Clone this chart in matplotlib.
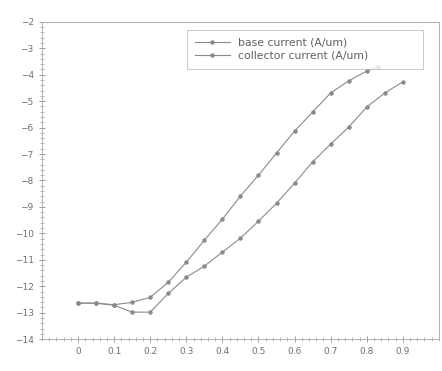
import matplotlib
matplotlib.use("Agg")
import matplotlib.pyplot as plt
from matplotlib.ticker import MultipleLocator

x_upper = [0, 0.05, 0.1, 0.15, 0.2, 0.25, 0.3, 0.35, 0.4, 0.45, 0.5, 0.55, 0.6, 0.65, 0.7, 0.75, 0.8, 0.83]
y_upper = [-12.64, -12.64, -12.70, -12.61, -12.42, -11.85, -11.09, -10.26, -9.46, -8.59, -7.80, -6.96,
           -6.13, -5.41, -4.69, -4.23, -3.86, -3.70]
x_lower = [0, 0.05, 0.1, 0.15, 0.2, 0.25, 0.3, 0.35, 0.4, 0.45, 0.5, 0.55, 0.6, 0.65, 0.7, 0.75, 0.8, 0.85, 0.9]
y_lower = [-12.64, -12.64, -12.72, -12.98, -12.98, -12.27, -11.66, -11.24, -10.71, -10.18, -9.54, -8.86,
           -8.10, -7.30, -6.62, -5.98, -5.22, -4.69, -4.27]
labels = ["base current (A/um)", "collector current (A/um)"]
xticks = [0, 0.1, 0.2, 0.3, 0.4, 0.5, 0.6, 0.7, 0.8, 0.9]
yticks = [-14, -13, -12, -11, -10, -9, -8, -7, -6, -5, -4, -3, -2]

fig = plt.figure(figsize=(4.42, 3.71), dpi=100)
ax = fig.add_axes([0.095, 0.086, 0.898, 0.855])
grey = "#8a8a8a"
ax.plot(x_upper, y_upper, color=grey, lw=0.8, marker="o", ms=2.2, mfc=grey, mec=grey, label=labels[0])
ax.plot(x_lower, y_lower, color=grey, lw=0.8, marker="o", ms=2.2, mfc=grey, mec=grey, label=labels[1])
ax.set_xlim(-0.1, 1.0)
ax.set_ylim(-14, -2)
ax.set_xticks(xticks)
ax.set_xticklabels([f"{t:g}" for t in xticks])
ax.set_yticks(yticks)
ax.xaxis.set_minor_locator(MultipleLocator(0.02))
ax.yaxis.set_minor_locator(MultipleLocator(0.2))
ax.tick_params(which="both", colors="#9a9a9a", labelcolor="#707070", labelsize=6.5, direction="inout")
ax.tick_params(which="major", length=5, width=0.7)
ax.tick_params(which="minor", length=2.5, width=0.5)
for sp in ax.spines.values():
    sp.set_color("#b0b0b0")
    sp.set_linewidth(0.7)
leg = ax.legend(loc="upper left", fontsize=7.8, frameon=True, fancybox=False, borderpad=0.75,
                handlelength=3.2, labelspacing=0.25, mode="expand", borderaxespad=0,
                bbox_to_anchor=(0.365, 0.858, 0.594, 0.117))
leg.get_frame().set_edgecolor("#b0b0b0")
leg.get_frame().set_linewidth(0.6)
for t in leg.get_texts():
    t.set_color("#606060")
fig.savefig("out.png", dpi=100)
